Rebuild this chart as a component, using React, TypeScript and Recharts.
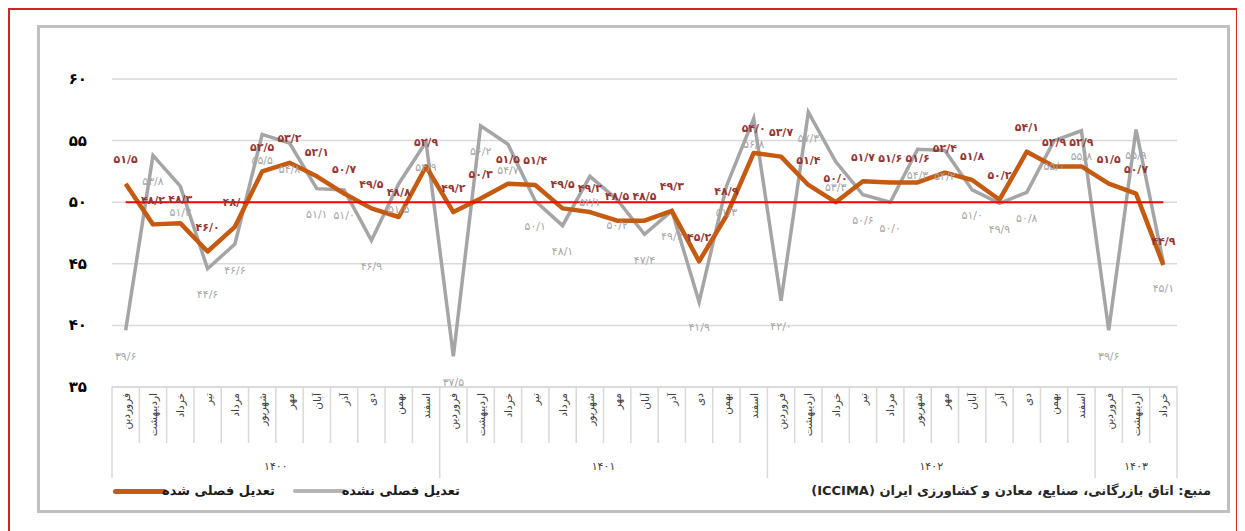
import React from 'react';
import { LineChart, Line, XAxis, YAxis, CartesianGrid, ReferenceLine, LabelList } from 'recharts';

const monthNames = ['فروردین', 'اردیبهشت', 'خرداد', 'تیر', 'مرداد', 'شهریور', 'مهر', 'آبان', 'آذر', 'دی', 'بهمن', 'اسفند'];
const yearLabels = ['۱۴۰۰', '۱۴۰۱', '۱۴۰۲', '۱۴۰۳'];
const monthsPerYear = [12, 12, 12, 3];

const adjusted = [
  51.5, 48.2, 48.3, 46.0, 48.0, 52.5, 53.2, 52.1, 50.7, 49.5, 48.8, 52.9,
  49.2, 50.3, 51.5, 51.4, 49.5, 49.2, 48.5, 48.5, 49.3, 45.2, 48.9, 54.0,
  53.7, 51.4, 50.0, 51.7, 51.6, 51.6, 52.4, 51.8, 50.2, 54.1, 52.9, 52.9,
  51.5, 50.7, 44.9,
];
const unadjusted = [
  39.6, 53.8, 51.3, 44.6, 46.6, 55.5, 54.8, 51.1, 51.0, 46.9, 51.5, 54.9,
  37.5, 56.2, 54.7, 50.1, 48.1, 52.1, 50.2, 47.4, 49.3, 41.9, 51.3, 56.8,
  42.0, 57.3, 53.3, 50.6, 50.0, 54.3, 54.2, 51.0, 49.9, 50.8, 55.0, 55.8,
  39.6, 55.9, 45.1,
];
const yTicks = [35, 40, 45, 50, 55, 60];
const threshold = 50;

const faDigits = '۰۱۲۳۴۵۶۷۸۹';
const toFa = (s: string) => s.replace(/\d/g, (d) => faDigits[+d]);
const fmt = (v: number) => toFa(v.toFixed(1).replace('.', '/'));

type Row = { key: string; month: string; year: number; adjusted: number; unadjusted: number };
const data: Row[] = [];
const yearStarts: number[] = [];
{
  let idx = 0;
  monthsPerYear.forEach((cnt, yi) => {
    yearStarts.push(idx);
    for (let m = 0; m < cnt; m++) {
      data.push({
        key: `${yi}-${m}`,
        month: monthNames[m],
        year: yi,
        adjusted: adjusted[idx],
        unadjusted: unadjusted[idx],
      });
      idx++;
    }
  });
}

const W = 1229;
const H = 523;
const M_TOP = 71;
const M_RIGHT = 60;
const Y_W = 104;
const X_H = 144;
const PLOT_W = W - M_RIGHT - Y_W;
const N = data.length;
const BW = PLOT_W / N;
const FONT = '"DejaVu Sans", sans-serif';
const GRID = '#D9D9D9';

const MonthTick = (props: any) => {
  const { x, y, payload } = props;
  const i: number = payload.index;
  const row = data[i];
  if (!row) return null;
  const left = x - BW / 2;
  const isStart = yearStarts.includes(i);
  const isLast = i === N - 1;
  const yi = row.year;
  const start = yearStarts[yi];
  const mid = start + (monthsPerYear[yi] - 1) / 2;
  const showYear = Math.floor(mid) === i;
  const yearX = x + (mid - Math.floor(mid)) * BW;
  return (
    <g>
      <line x1={left} x2={left} y1={y} y2={y + (isStart ? 91 : 56)} stroke={GRID} strokeWidth={1.5} />
      {isLast && <line x1={x + BW / 2} x2={x + BW / 2} y1={y} y2={y + 91} stroke={GRID} strokeWidth={1.5} />}
      <text
        transform={`translate(${x},${y + 6}) rotate(-90)`}
        textAnchor="end"
        dominantBaseline="central"
        fontSize={10.5}
        fontFamily={FONT}
        fill="#404040"
      >
        {row.month}
      </text>
      {showYear && (
        <text x={yearX} y={y + 83} textAnchor="middle" fontSize={11} fontFamily={FONT} fill="#404040">
          {yearLabels[yi]}
        </text>
      )}
    </g>
  );
};

const YTick = (props: any) => {
  const { y, payload } = props;
  return (
    <text x={79} y={y} textAnchor="end" dominantBaseline="central" fontSize={15} fontWeight="bold" fontFamily={FONT} fill="#000">
      {toFa(String(payload.value))}
    </text>
  );
};

const AdjLabel = (props: any) => {
  const { x, y, value } = props;
  return (
    <text x={x} y={y - 24} textAnchor="middle" dominantBaseline="central" fontSize={11} fontWeight="bold" fontFamily={FONT} fill="#943634">
      {fmt(value)}
    </text>
  );
};

const UnadjLabel = (props: any) => {
  const { x, y, value } = props;
  return (
    <text x={x} y={y + 26} textAnchor="middle" dominantBaseline="central" fontSize={11} fontFamily={FONT} fill="#A6A6A6">
      {fmt(value)}
    </text>
  );
};

export default function App() {
  return (
    <div style={{ position: 'relative', width: W, height: H, overflow: 'hidden', fontFamily: FONT }}>
      <div
        style={{
          position: 'absolute', left: 0, top: 0, width: 1230, height: 560,
          border: '2.5px solid #D0242C', boxSizing: 'border-box',
        }}
      />
      <div
        style={{
          position: 'absolute', left: 29, top: 17, width: 1193, height: 488,
          border: '3px solid #C0C0C0', boxSizing: 'border-box', background: '#fff',
        }}
      />
      <div style={{ position: 'absolute', left: 0, top: 0 }}>
        <LineChart width={W} height={H} data={data} margin={{ top: M_TOP, right: M_RIGHT, bottom: 0, left: 0 }}>
          <CartesianGrid vertical={false} stroke={GRID} strokeWidth={1.5} />
          <XAxis
            dataKey="key"
            interval={0}
            tickLine={false}
            tickSize={0}
            tickMargin={0}
            padding={{ left: BW / 2, right: BW / 2 }}
            axisLine={{ stroke: GRID, strokeWidth: 1.5 }}
            height={X_H}
            tick={<MonthTick />}
          />
          <YAxis
            domain={[35, 60]}
            ticks={yTicks}
            width={Y_W}
            axisLine={false}
            tickLine={false}
            tick={<YTick />}
          />
          <Line
            dataKey="unadjusted"
            stroke="#A5A5A5"
            strokeWidth={3.5}
            dot={false}
            isAnimationActive={false}
            strokeLinejoin="miter"
          >
            <LabelList dataKey="unadjusted" content={<UnadjLabel />} />
          </Line>
          <Line
            dataKey="adjusted"
            stroke="#C55A11"
            strokeWidth={4.5}
            dot={false}
            isAnimationActive={false}
            strokeLinejoin="round"
          >
            <LabelList dataKey="adjusted" content={<AdjLabel />} />
          </Line>
          <ReferenceLine
            segment={[{ x: data[0].key, y: threshold }, { x: data[N - 1].key, y: threshold }]}
            stroke="#FF0000"
            strokeWidth={2}
          />
        </LineChart>
      </div>
      {/* legend */}
      <div style={{ position: 'absolute', left: 105, top: 481, width: 54, height: 4.5, borderRadius: 3, background: '#C55A11' }} />
      <div style={{ position: 'absolute', left: 162, top: 473, width: 105, height: 20, direction: 'rtl', fontSize: 13, fontWeight: 'bold', color: '#1a1a1a', whiteSpace: 'nowrap', lineHeight: '20px', textAlign: 'center' }}>
        تعدیل فصلی شده
      </div>
      <div style={{ position: 'absolute', left: 285, top: 481, width: 53, height: 4, borderRadius: 3, background: '#B4B4B4' }} />
      <div style={{ position: 'absolute', left: 340, top: 473, width: 112, height: 20, direction: 'rtl', fontSize: 13, fontWeight: 'bold', color: '#1a1a1a', whiteSpace: 'nowrap', lineHeight: '20px', textAlign: 'center' }}>
        تعدیل فصلی نشده
      </div>
      <div style={{ position: 'absolute', right: W - 1203, top: 473, height: 20, direction: 'rtl', fontSize: 13, fontWeight: 'bold', color: '#262626', whiteSpace: 'nowrap', lineHeight: '20px' }}>
        منبع: اتاق بازرگانی، صنایع، معادن و کشاورزی ایران (ICCIMA)
      </div>
    </div>
  );
}
